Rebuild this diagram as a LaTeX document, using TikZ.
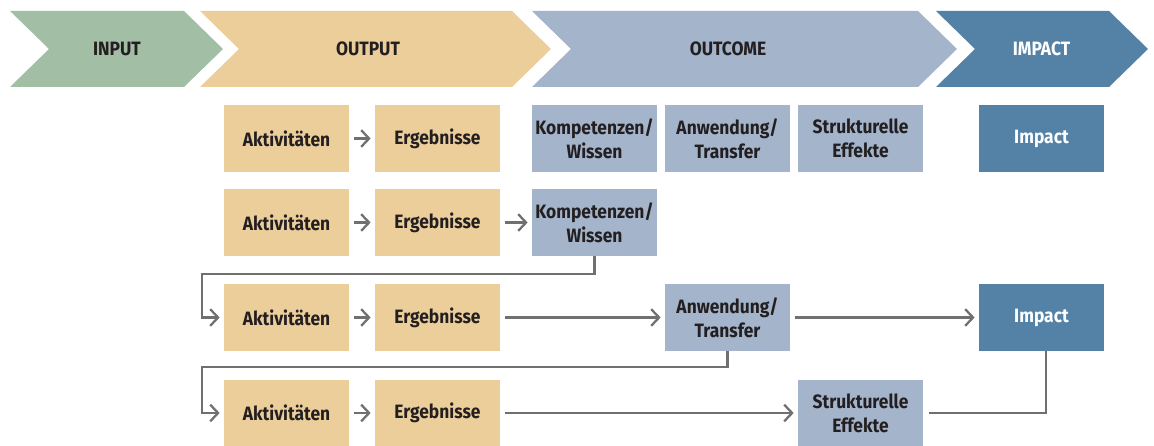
\documentclass[tikz,border=0pt]{standalone}
\usepackage{fontspec}
\setsansfont{Fira Sans}[FakeStretch=0.9]
\usepackage{tikz}
\usetikzlibrary{arrows.meta}
\usepackage{xcolor}

\definecolor{ingreen}{HTML}{A2BFA6}
\definecolor{outsand}{HTML}{ECCE9B}
\definecolor{ocblue}{HTML}{A3B4CB}
\definecolor{impblue}{HTML}{5382A6}
\definecolor{txtdark}{HTML}{231F20}
\definecolor{linegray}{HTML}{707070}

\tikzset{
	lbl/.style={font=\sffamily\bfseries\fontsize{11}{13.6}\selectfont, text=txtdark, align=center, inner sep=0pt},
	box/.style={lbl, minimum width=2.5cm, minimum height=1.34cm},
	outbox/.style={box, fill=outsand},
	ocbox/.style={box, fill=ocblue},
	impbox/.style={box, fill=impblue, text=white},
	link/.style={draw=linegray, line width=1.3pt},
	flow/.style={link, -{Straight Barb[length=4.5pt, width=9.5pt]}, shorten <=0.1cm, shorten >=0.08cm}
}

\begin{document}
\begin{tikzpicture}[x=0.02cm, y=-0.02cm]
		\useasboundingbox (0,0) rectangle (1154,446);
		% phases
		\fill[ingreen] (10,11) -- (184,11) -- (223,49) -- (184,87) -- (10,87) -- (49,49) -- cycle;
		\node[lbl] (input) at (117,49) {INPUT};
		\fill[outsand] (200,11) -- (512,11) -- (551,49) -- (512,87) -- (200,87) -- (239,49) -- cycle;
		\node[lbl] (output) at (368,49) {OUTPUT};
		\fill[ocblue] (532,11) -- (918,11) -- (957,49) -- (918,87) -- (532,87) -- (571,49) -- cycle;
		\node[lbl] (outcome) at (728,49) {OUTCOME};
		\fill[impblue] (936,11) -- (1109,11) -- (1148,49) -- (1109,87) -- (936,87) -- (975,49) -- cycle;
		\node[lbl, text=white] (impact) at (1041.5,49) {IMPACT};

		% row 1
		\node[outbox] (akt1) at (286.5,138.5) {Aktivitäten};
		\node[outbox] (erg1) at (437.5,138.5) {Ergebnisse};
		\node[ocbox] (komp1) at (594.5,138.5) {Kompetenzen/\\Wissen};
		\node[ocbox] (anw1) at (727.5,138.5) {Anwendung/\\Transfer};
		\node[ocbox] (struk1) at (860.5,138.5) {Strukturelle\\Effekte};
		\node[impbox] (imp1) at (1041.5,138.5) {Impact};
		\draw[flow] (akt1) -- (erg1);

		% row 2
		\node[outbox] (akt2) at (286.5,222.5) {Aktivitäten};
		\node[outbox] (erg2) at (437.5,222.5) {Ergebnisse};
		\node[ocbox] (komp2) at (594.5,222.5) {Kompetenzen/\\Wissen};
		\draw[flow] (akt2) -- (erg2);
		\draw[flow] (erg2) -- (komp2);

		% row 3
		\node[outbox] (akt3) at (286.5,317.5) {Aktivitäten};
		\node[outbox] (erg3) at (437.5,317.5) {Ergebnisse};
		\node[ocbox] (anw3) at (727.5,317.5) {Anwendung/\\Transfer};
		\node[impbox] (imp3) at (1041.5,317.5) {Impact};
		\draw[flow] (akt3) -- (erg3);
		\draw[flow] (erg3) -- (anw3);
		\draw[flow] (anw3) -- (imp3);

		% row 4
		\node[outbox] (akt4) at (286.5,413) {Aktivitäten};
		\node[outbox] (erg4) at (437.5,413) {Ergebnisse};
		\node[ocbox] (struk4) at (860.5,413) {Strukturelle\\Effekte};
		\draw[flow] (akt4) -- (erg4);
		\draw[flow] (erg4) -- (struk4);

		% returns
		\coordinate (bend1) at (202,274);
		\coordinate (bend2) at (202,367);
		\draw[flow, shorten <=0pt] (komp2.south) |- (bend1) |- (akt3.west);
		\draw[flow, shorten <=0pt] (anw3.south) |- (bend2) |- (akt4.west);
		\draw[link, shorten <=0.12cm] (struk4.east) -| ([xshift=0.09cm]imp3.south);
\end{tikzpicture}
\end{document}
